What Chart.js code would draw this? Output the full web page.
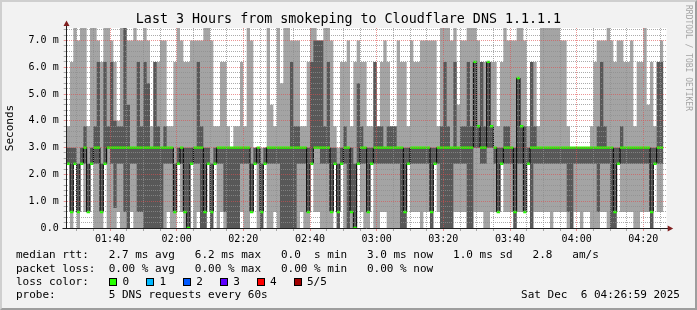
<!DOCTYPE html>
<html>
<head>
<meta charset="utf-8">
<script src="https://cdn.jsdelivr.net/npm/chart.js@4.4.1/dist/chart.umd.min.js"></script>
<style>
  body { margin: 0; background: #f2f2f2; }
  #wrap { position: relative; width: 697px; height: 310px; background: #f2f2f2; overflow: hidden;
          font-family: "DejaVu Sans Mono", monospace; color: #000; }
  #chart { position: absolute; left: 0; top: 0; }
  #frame { position: absolute; left: 0; top: 0; width: 697px; height: 310px; box-sizing: border-box;
           border: 2px solid; border-color: #cfcfcf #9e9e9e #9e9e9e #cfcfcf; pointer-events: none; }
  .title { position: absolute; left: 0; top: 11px; width: 697px; text-align: center; font-size: 13.33px; line-height: 16px; }
  .mark { position: absolute; left: 684px; top: 5px; writing-mode: vertical-rl; font-size: 8px; line-height: 8px; color: #a4a4a4; }
  .line { position: absolute; left: 16px; font-size: 11px; line-height: 14px; white-space: pre; }
  .box { position: absolute; width: 8px; height: 8px; border: 1px solid #000; box-sizing: border-box; }
</style>
</head>
<body>
<div id="wrap">
  <canvas id="chart" width="697" height="310"></canvas>
  <div class="title">Last 3 Hours from smokeping to Cloudflare DNS 1.1.1.1</div>
  <div class="mark">RRDTOOL / TOBI OETIKER</div>
  <div class="line" style="top:248px">median rtt:   2.7 ms avg   6.2 ms max   0.0  s min   3.0 ms now   1.0 ms sd   2.8   am/s</div>
  <div class="line" style="top:261.5px">packet loss:  0.00 % avg   0.00 % max   0.00 % min   0.00 % now</div>
  <div class="line" id="losses" style="top:275px">loss color:</div>
  <div class="line" style="top:288px">probe:        5 DNS requests every 60s</div>
  <div class="line" style="top:288px;left:auto;right:17px">Sat Dec  6 04:26:59 2025</div>
  <div id="frame"></div>
</div>
<script>
// one value per minute, 01:27 .. 04:25 (ms)
const median = [
  2.4,0.6,2.4,0.6,2.4,3.0,0.6,2.4,3.0,3.0, 0.6,2.4,3.0,3.0,3.0,3.0,3.0,3.0,3.0,3.0,
  3.0,3.0,3.0,3.0,3.0,3.0,3.0,3.0,3.0,3.0, 3.0,3.0,0.6,2.4,3.0,0.6,0.0,2.4,3.0,3.0,
  3.0,0.6,2.4,0.6,2.4,3.0,3.0,3.0,3.0,3.0, 3.0,3.0,3.0,3.0,3.0,0.6,2.4,3.0,0.6,2.4,
  3.0,3.0,3.0,3.0,3.0,3.0,3.0,3.0,3.0,3.0, 3.0,3.0,0.6,2.4,3.0,3.0,3.0,3.0,3.0,0.6,
  2.4,0.6,2.4,3.0,3.0,0.6,0.0,2.4,3.0,3.0, 0.6,2.4,3.0,3.0,3.0,3.0,3.0,3.0,3.0,3.0,
  3.0,0.6,2.4,3.0,3.0,3.0,3.0,3.0,3.0,0.6, 2.4,3.0,3.0,3.0,3.0,3.0,3.0,3.0,3.0,3.0,
  3.0,3.0,6.2,3.8,3.0,3.0,6.2,3.8,3.0,0.6, 2.4,3.0,3.0,3.0,0.6,5.6,3.8,0.6,2.4,3.0,
  3.0,3.0,3.0,3.0,3.0,3.0,3.0,3.0,3.0,3.0, 3.0,3.0,3.0,3.0,3.0,3.0,3.0,3.0,3.0,3.0,
  3.0,3.0,3.0,3.0,0.6,2.4,3.0,3.0,3.0,3.0, 3.0,3.0,3.0,3.0,3.0,0.6,2.4,3.0,3.0
];
const ping5 = [
  3.8,6.2,7.8,7.0,7.8,7.8,3.8,7.8,7.8,7.0, 6.2,7.8,7.8,7.0,6.2,4.0,7.8,7.8,7.0,7.0,
  7.8,7.0,7.0,7.8,7.0,3.8,6.2,6.2,7.0,7.0, 3.8,3.8,6.2,7.8,7.0,6.2,6.2,7.0,7.0,7.0,
  7.0,7.8,7.8,7.0,3.8,3.8,6.2,6.2,3.8,3.0, 3.8,3.8,6.2,3.8,7.8,7.0,3.0,3.0,3.0,3.0,
  7.8,4.6,3.8,7.8,5.4,7.8,7.8,7.0,7.0,7.0, 3.8,3.8,6.2,7.8,7.8,7.0,7.0,7.8,7.8,7.0,
  3.8,3.0,6.2,6.2,7.0,3.8,6.2,7.0,6.2,6.2, 3.8,3.8,6.2,3.8,6.2,7.0,6.2,3.8,3.8,7.0,
  6.2,6.2,3.8,7.0,6.2,6.2,7.0,7.0,7.0,7.0, 7.0,3.8,7.8,7.8,7.8,7.0,7.8,4.6,7.0,7.0,
  7.8,7.8,7.8,7.0,6.2,6.2,6.2,6.2,6.2,3.8, 6.2,7.8,7.0,7.0,7.0,7.8,7.8,7.0,3.8,6.2,
  6.2,3.8,7.8,7.8,7.8,7.8,7.8,7.8,7.0,7.0, 3.8,3.0,3.0,3.0,3.0,3.0,3.0,3.8,6.2,7.0,
  7.0,7.0,7.8,7.0,6.2,7.0,7.0,6.2,6.2,7.0, 3.8,6.2,6.2,7.8,4.6,6.2,3.8,6.2,7.0
];
const ping4 = [
  3.0,3.0,3.0,2.4,3.0,3.8,2.4,3.0,3.8,6.2, 2.4,6.2,3.8,6.2,4.0,3.8,3.8,7.8,4.6,3.0,
  3.0,6.2,3.8,6.2,5.4,3.0,6.2,3.8,3.0,3.8, 3.0,3.0,2.4,3.0,3.0,3.0,3.0,3.0,3.0,6.2,
  3.8,3.0,3.0,2.4,3.0,3.0,3.0,3.0,3.0,3.0, 3.0,3.0,3.0,3.0,3.0,2.4,3.0,3.0,2.4,3.0,
  3.0,3.0,3.0,3.0,3.0,3.0,3.0,6.2,3.8,3.8, 3.0,3.0,3.0,6.2,7.0,7.0,7.0,3.8,6.2,3.0,
  3.0,2.4,3.0,3.8,3.0,3.0,2.4,5.4,3.8,3.0, 3.0,3.0,6.2,3.8,3.8,3.0,3.8,3.8,3.8,3.0,
  3.0,3.0,3.0,3.0,3.0,3.0,3.0,3.0,3.0,3.0, 3.0,3.0,3.8,6.2,3.8,3.0,6.2,3.0,3.8,3.8,
  6.2,3.8,6.2,3.8,6.2,3.8,6.2,3.8,3.0,3.0, 3.0,3.8,3.8,3.0,3.0,5.6,3.8,3.8,3.0,6.2,
  3.8,3.0,3.0,3.0,3.0,3.0,3.0,3.0,3.0,3.0, 3.0,3.0,3.0,3.0,3.0,3.0,3.0,3.0,3.0,3.8,
  6.2,3.8,3.0,3.0,3.0,3.0,3.8,3.0,3.0,3.0, 3.0,3.0,3.0,3.0,3.0,3.0,3.0,6.2,6.2
];
const ping2 = [
  2.4,0.6,2.4,0.6,2.4,2.4,0.6,2.4,2.4,2.4, 0.6,2.4,3.0,2.4,0.75,2.4,2.4,0.6,0.0,2.4,
  2.4,0.6,0.6,0.0,0.0,0.0,0.0,0.0,0.0,2.4, 2.4,2.4,0.6,2.4,2.4,0.6,0.0,2.4,2.4,2.4,
  0.0,0.0,2.4,0.0,2.4,2.4,2.4,0.6,0.0,0.0, 0.0,0.0,2.4,2.4,2.4,0.6,2.4,2.4,0.0,2.4,
  2.4,2.4,2.4,2.4,0.0,0.0,0.0,0.0,0.0,2.4, 2.4,2.4,0.6,2.4,3.0,3.0,2.4,2.4,2.4,0.6,
  2.4,0.0,2.4,2.4,0.0,0.6,0.0,2.4,2.4,2.4, 0.6,2.4,2.4,2.4,2.4,2.4,2.4,2.4,2.4,2.4,
  0.0,0.0,2.4,2.4,2.4,2.4,2.4,2.4,2.4,0.0, 2.4,2.4,0.0,0.0,0.0,0.0,2.4,2.4,2.4,2.4,
  0.0,0.0,3.0,3.0,2.4,2.4,3.0,3.0,2.4,0.6, 2.4,2.4,2.4,2.4,0.0,2.4,2.4,0.6,2.4,0.0,
  2.4,2.4,2.4,2.4,2.4,2.4,2.4,2.4,2.4,2.4, 0.6,0.0,2.4,2.4,2.4,2.4,2.4,2.4,2.4,0.6,
  2.4,2.4,2.4,0.0,0.0,2.4,2.4,2.4,2.4,2.4, 2.4,2.4,2.4,2.4,2.4,0.0,2.4,2.4,2.4
];
const ping1 = [
  2.4,0.0,2.4,0.0,2.4,0.6,0.6,2.4,0.0,0.0, 0.0,2.4,0.0,0.0,0.0,0.6,0.0,0.0,0.0,0.6,
  0.0,0.0,0.0,0.0,0.0,0.0,0.0,0.0,0.0,0.0, 0.6,0.0,0.0,2.4,0.6,0.0,0.0,2.4,0.0,0.6,
  0.0,0.0,2.4,0.0,2.4,0.0,0.6,0.0,0.0,0.0, 0.0,0.0,0.6,0.0,0.0,0.6,2.4,0.0,0.0,2.4,
  0.0,0.0,0.6,0.0,0.0,0.0,0.0,0.0,0.0,0.0, 0.6,0.0,0.0,2.4,0.6,0.6,0.0,0.0,0.0,0.0,
  2.4,0.0,2.4,0.0,0.0,0.0,0.0,2.4,0.6,0.0, 0.0,2.4,0.0,0.0,0.6,0.6,0.0,0.0,0.0,0.0,
  0.0,0.0,2.4,0.6,0.6,0.6,0.0,0.6,0.6,0.0, 2.4,0.6,0.0,0.0,0.0,0.0,0.6,0.6,0.6,0.6,
  0.0,0.0,0.6,0.6,0.6,0.0,0.0,0.6,0.6,0.6, 2.4,0.6,0.6,0.6,0.0,0.6,0.6,0.6,2.4,0.0,
  0.6,0.6,0.6,0.6,0.6,0.0,0.6,0.6,0.6,0.6, 0.0,0.0,0.6,0.6,0.0,0.6,0.6,0.0,0.0,0.0,
  0.6,0.6,0.0,0.0,0.0,2.4,0.6,0.6,0.6,0.6, 0.0,0.0,0.6,0.6,0.6,0.0,2.4,0.6,0.6
];
const timeLabels = ["01:40", "02:00", "02:20", "02:40", "03:00", "03:20", "03:40", "04:00", "04:20"];
const yTickLabels = ["0.0", "1.0 m", "2.0 m", "3.0 m", "4.0 m", "5.0 m", "6.0 m", "7.0 m"];
const lossLabels = ["0", "1", "2", "3", "4", "5/5"];
const lossColors = ["#26ff00", "#00b8ff", "#0059ff", "#5e00ff", "#ff0000", "#a00000"];

const yMax = 7.466;
const firstLabel = 13; // 01:40 is 13 min after 01:27
const band = 0.045;
const GRID = "rgba(143,143,143,0.75)";
const MGRID = "rgba(222,79,79,0.6)";

const xTicks = [];
for (let m = 3; m < 180; m += 5) xTicks.push(m);
const yTicks = [];
for (let i = 0; i < 38; i++) yTicks.push(i / 5);

const isMajorX = (v) => (v - firstLabel) % 20 === 0;
const isMajorY = (v) => v > 0 && Math.abs(v - Math.round(v)) < 1e-6;

const pts = (arr) =>
  arr.map((y, i) => ({ x: i, y })).concat([{ x: arr.length, y: arr[arr.length - 1] }]);

const losses = document.getElementById("losses");
lossLabels.forEach((label, i) => {
  const box = document.createElement("div");
  box.className = "box";
  box.style.left = 93 + i * 36.9 + "px";
  box.style.top = "3px";
  box.style.background = lossColors[i];
  losses.appendChild(box);
  const txt = document.createElement("span");
  txt.style.position = "absolute";
  txt.style.left = 106.5 + i * 36.9 + "px";
  txt.textContent = label;
  losses.appendChild(txt);
});

const frame = {
  id: "frame",
  beforeDraw(chart) {
    const { ctx, chartArea: a } = chart;
    ctx.save();
    ctx.fillStyle = "#ffffff";
    ctx.fillRect(a.left, a.top, a.right - a.left, a.bottom - a.top);
    ctx.restore();
  },
  afterDraw(chart) {
    const { ctx, chartArea: a } = chart;
    const x0 = Math.round(a.left) - 0.5;
    const y0 = Math.round(a.bottom) + 0.5;
    ctx.save();
    ctx.strokeStyle = "#1f1f1f";
    ctx.lineWidth = 1;
    ctx.beginPath();
    ctx.moveTo(x0, a.top + 1);
    ctx.lineTo(x0, a.top - 4);
    ctx.moveTo(x0 - 4, y0);
    ctx.lineTo(x0, y0);
    ctx.moveTo(a.right - 1, y0);
    ctx.lineTo(a.right + 2, y0);
    ctx.stroke();
    ctx.fillStyle = "#801f1f";
    ctx.beginPath();
    ctx.moveTo(x0 - 3, a.top - 2);
    ctx.lineTo(x0 + 3, a.top - 2);
    ctx.lineTo(x0, a.top - 7.5);
    ctx.closePath();
    ctx.fill();
    ctx.beginPath();
    ctx.moveTo(a.right + 1, y0 - 3);
    ctx.lineTo(a.right + 1, y0 + 3);
    ctx.lineTo(a.right + 6.5, y0);
    ctx.closePath();
    ctx.fill();
    ctx.restore();
  },
};

Chart.defaults.font.family = "'DejaVu Sans Mono', monospace";
Chart.defaults.color = "#000";

new Chart(document.getElementById("chart"), {
  type: "line",
  data: {
    datasets: [
      { data: pts(median.map((v) => v + band)), fill: "+1", backgroundColor: "#26ff00" },
      { data: pts(median.map((v) => v - band)), fill: false },
      { data: pts(median), fill: false, borderColor: "#000", borderWidth: 1 },
      { data: pts(ping4), fill: "+1", backgroundColor: "#585858" },
      { data: pts(ping2), fill: false },
      { data: pts(ping5), fill: "+1", backgroundColor: "#a4a4a4" },
      { data: pts(ping1), fill: false },
    ],
  },
  options: {
    responsive: false,
    animation: false,
    layout: { padding: { left: 4, right: 30.33, top: 28, bottom: 60 } },
    elements: {
      line: { stepped: true, borderWidth: 0, borderColor: "rgba(0,0,0,0)", tension: 0 },
      point: { radius: 0, hoverRadius: 0 },
    },
    plugins: { legend: { display: false }, tooltip: { enabled: false } },
    scales: {
      x: {
        type: "linear",
        min: 0,
        max: 180,
        afterFit: (s) => { s.height = 22; },
        afterBuildTicks: (s) => { s.ticks = xTicks.map((v) => ({ value: v })); },
        grid: {
          z: 1,
          color: (c) => (isMajorX(c.tick.value) ? MGRID : GRID),
          tickColor: (c) => (isMajorX(c.tick.value) ? MGRID : GRID),
          tickLength: 3,
        },
        border: { color: "#1f1f1f", dash: [1, 1], z: 2 },
        ticks: {
          autoSkip: false,
          maxRotation: 0,
          minRotation: 0,
          padding: 2,
          font: { size: 10 },
          callback: (v) => (isMajorX(v) ? timeLabels[(v - firstLabel) / 20] : ""),
        },
      },
      y: {
        min: 0,
        max: yMax,
        afterFit: (s) => { s.width = 62.67; },
        afterBuildTicks: (s) => { s.ticks = yTicks.map((v) => ({ value: v })); },
        grid: {
          z: 1,
          color: (c) => (isMajorY(c.tick.value) ? MGRID : GRID),
          tickColor: (c) => (isMajorY(c.tick.value) ? MGRID : GRID),
          tickLength: 3,
        },
        border: { color: "#1f1f1f", dash: [1, 1], z: 2 },
        ticks: {
          autoSkip: false,
          padding: 5,
          font: { size: 10 },
          callback: (v) => (Math.abs(v - Math.round(v)) < 1e-6 ? yTickLabels[Math.round(v)] : ""),
        },
        title: { display: true, text: "Seconds", font: { size: 11 }, padding: 0 },
      },
    },
  },
  plugins: [frame],
});
</script>
</body>
</html>
